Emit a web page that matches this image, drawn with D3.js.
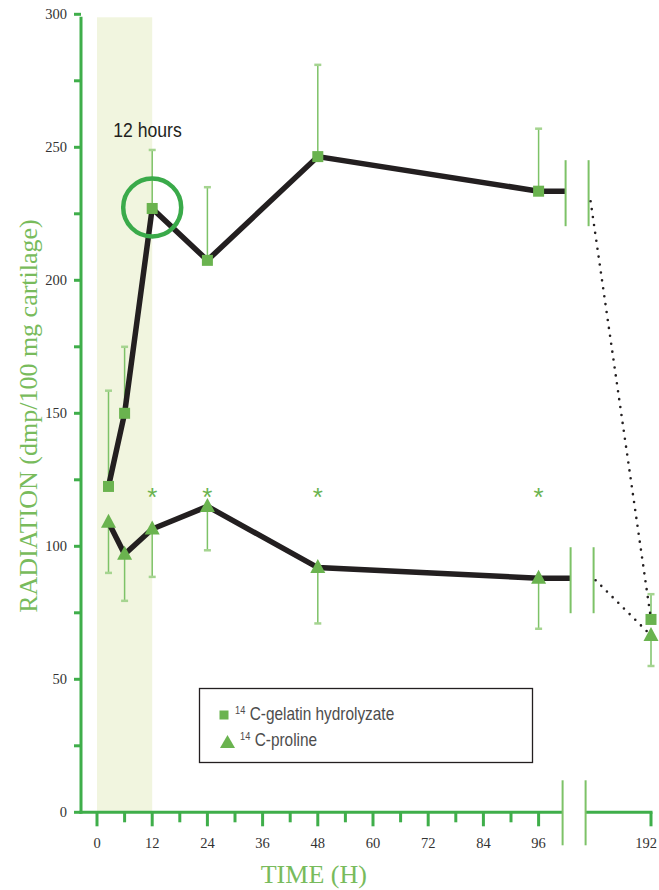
<!DOCTYPE html>
<html>
<head>
<meta charset="utf-8">
<script src="https://cdn.jsdelivr.net/npm/d3@7/dist/d3.min.js"></script>
<style>
  html, body { margin: 0; padding: 0; background: #fff; }
  svg { display: block; }
</style>
</head>
<body>
<div id="chart"></div>
<script>
// Time points (hours) and measured radioactivity per 100 mg cartilage
const gelatinTimes = [2.5, 6, 12, 24, 48, 96, 192];
const gelatinValues = [122.5, 150, 227, 207.5, 246.5, 233.5, 72.5];
const gelatinUpper = [158.5, 175, 249, 235, 281, 257, 82];

const prolineTimes = [2.5, 6, 12, 24, 48, 96, 192];
const prolineValues = [109, 97, 106.5, 115, 92, 88, 66.5];
const prolineLower = [90, 79.5, 88.5, 98.5, 71, 69, 55];

// Time points where the difference is significant
const significantTimes = [12, 24, 48, 96];
const significantLevel = 121;

const xTicks = [0, 6, 12, 18, 24, 30, 36, 42, 48, 54, 60, 66, 72, 78, 84, 90, 96, 192];
const xTickLabels = [0, 12, 24, 36, 48, 60, 72, 84, 96, 192];
const yTicks = [0, 25, 50, 75, 100, 125, 150, 175, 200, 225, 250, 275, 300];
const yTickLabels = [0, 50, 100, 150, 200, 250, 300];

const highlightHours = [0, 12];
const highlightTime = 12;

const W = 659, H = 890;
const axisGreen = "#3fae4a";
const markGreen = "#6ab34f";
const barGreen = "#7dc267";
const capGreen = "#a5d490";
const titleGreen = "#78bb5c";
const ink = "#231f20";
const serif = "'Liberation Serif', 'DejaVu Serif', serif";
const sans = "'Liberation Sans', Arial, sans-serif";

const svg = d3.select("#chart").append("svg")
  .attr("width", W).attr("height", H);

// Hours 0–96 on a linear stretch, then a compressed jump to 192 after the axis break
const x = d3.scaleLinear().domain([0, 96, 192]).range([97, 538.6, 651]);
const y = d3.scaleLinear().domain([0, 300]).range([812.3, 14.3]);
const axisLeft = 81;
const breakA = 24, breakB = 47;

// Highlighted 0–12 h window
svg.append("rect")
  .attr("x", x(highlightHours[0])).attr("y", y(300) + 3)
  .attr("width", x(highlightHours[1]) - x(highlightHours[0]))
  .attr("height", y(0) - y(300) - 3)
  .attr("fill", "#f1f5df");

// ---- Y axis
const gy = svg.append("g");
gy.append("line")
  .attr("x1", axisLeft).attr("x2", axisLeft)
  .attr("y1", y(300) + 2.5).attr("y2", y(0) + 1.5)
  .attr("stroke", axisGreen).attr("stroke-width", 3);
gy.selectAll("line.tick").data(yTicks).join("line")
  .attr("class", "tick")
  .attr("x1", axisLeft - 7).attr("x2", axisLeft)
  .attr("y1", d => y(d)).attr("y2", d => y(d))
  .attr("stroke", axisGreen).attr("stroke-width", 3);
gy.selectAll("text").data(yTickLabels).join("text")
  .attr("x", 67).attr("y", d => y(d) + 5)
  .attr("text-anchor", "end")
  .attr("font-family", serif)
  .attr("font-size", 14.5).attr("fill", "#333")
  .text(d => d);

// ---- X axis (with break between 96 and 192)
const gx = svg.append("g");
gx.append("line")
  .attr("x1", axisLeft - 1.5).attr("x2", x(96) + breakA)
  .attr("y1", y(0)).attr("y2", y(0))
  .attr("stroke", axisGreen).attr("stroke-width", 3);
gx.append("line")
  .attr("x1", x(96) + breakB).attr("x2", x(192) + 1.5)
  .attr("y1", y(0)).attr("y2", y(0))
  .attr("stroke", axisGreen).attr("stroke-width", 3);
gx.selectAll("line.tick").data(xTicks).join("line")
  .attr("class", "tick")
  .attr("x1", d => x(d)).attr("x2", d => x(d))
  .attr("y1", y(0))
  .attr("y2", d => y(0) + (d % 12 === 0 ? 14 : 10))
  .attr("stroke", axisGreen).attr("stroke-width", 3);
[breakA, breakB].forEach(off => {
  gx.append("line")
    .attr("x1", x(96) + off).attr("x2", x(96) + off)
    .attr("y1", y(0) - 32).attr("y2", y(0) + 33)
    .attr("stroke", barGreen).attr("stroke-width", 2);
});
gx.selectAll("text").data(xTickLabels).join("text")
  .attr("x", d => Math.min(x(d), W - 13)).attr("y", 848)
  .attr("text-anchor", "middle")
  .attr("font-family", serif)
  .attr("font-size", 14.5).attr("fill", "#333")
  .text(d => d);

// ---- Axis titles
svg.append("text")
  .attr("x", x(48) - 4).attr("y", 883)
  .attr("text-anchor", "middle")
  .attr("font-family", serif)
  .attr("font-size", 26).attr("fill", titleGreen)
  .text("TIME (H)");
svg.append("text")
  .attr("transform", "translate(37,416) rotate(-90)")
  .attr("text-anchor", "middle")
  .attr("font-family", serif)
  .attr("font-size", 26).attr("fill", titleGreen)
  .text("RADIATION (dmp/100 mg cartilage)");

// ---- Series helpers
const toPoints = (times, values) => times.map((t, i) => ({ t, v: values[i] }));
const gelatin = toPoints(gelatinTimes, gelatinValues);
const proline = toPoints(prolineTimes, prolineValues);

const line = d3.line().x(d => x(d.t)).y(d => y(d.v));

function drawSeries(points, err, dir, offA, offB) {
  const g = svg.append("g");
  const main = points.filter(p => p.t <= 96);
  const last = main[main.length - 1];
  const tail = points[points.length - 1];

  // error bars (one-sided)
  points.forEach((p, i) => {
    g.append("line")
      .attr("x1", x(p.t)).attr("x2", x(p.t))
      .attr("y1", y(p.v)).attr("y2", y(err[i]))
      .attr("stroke", barGreen).attr("stroke-width", 1.5);
    g.append("line")
      .attr("x1", x(p.t) - 3.5).attr("x2", x(p.t) + 3.5)
      .attr("y1", y(err[i])).attr("y2", y(err[i]))
      .attr("stroke", capGreen).attr("stroke-width", 2.5);
  });

  // solid trace to the break
  const xa = x(last.t) + offA, xb = x(last.t) + offB;
  g.append("path")
    .attr("d", line(main) + "L" + xa + "," + y(last.v))
    .attr("fill", "none").attr("stroke", ink)
    .attr("stroke-width", 5.5).attr("stroke-linejoin", "miter");

  // break marks on the trace
  [offA, offB].forEach(off => {
    g.append("line")
      .attr("x1", x(last.t) + off).attr("x2", x(last.t) + off)
      .attr("y1", y(last.v) - 31).attr("y2", y(last.v) + 35)
      .attr("stroke", barGreen).attr("stroke-width", 2);
  });

  // dotted continuation to 192 h
  g.append("line")
    .attr("x1", xb + 2).attr("y1", y(last.v) + dir)
    .attr("x2", x(tail.t)).attr("y2", y(tail.v))
    .attr("stroke", ink).attr("stroke-width", 2.6)
    .attr("stroke-linecap", "round")
    .attr("stroke-dasharray", "0 8");
  return g;
}

const gG = drawSeries(gelatin, gelatinUpper, 10, 27, 50);
const gP = drawSeries(proline, prolineLower, 2, 32, 55);

// Highlight ring around the 12 h gelatin value
const g12 = gelatin.find(p => p.t === highlightTime);
svg.append("circle")
  .attr("cx", x(g12.t)).attr("cy", y(g12.v) - 1)
  .attr("r", 29)
  .attr("fill", "none").attr("stroke", "#3aaa4a").attr("stroke-width", 4.5);

// markers
gG.selectAll("rect.m").data(gelatin).join("rect")
  .attr("class", "m")
  .attr("x", d => x(d.t) - 5.5).attr("y", d => y(d.v) - 5.5)
  .attr("width", 11).attr("height", 11)
  .attr("fill", markGreen);
const tri = "M0,-8.5L7.5,5.5L-7.5,5.5Z";
gP.selectAll("path.m").data(proline).join("path")
  .attr("class", "m")
  .attr("transform", d => `translate(${x(d.t)},${y(d.v)})`)
  .attr("d", tri)
  .attr("fill", markGreen);

// significance marks
svg.selectAll("text.sig").data(significantTimes).join("text")
  .attr("class", "sig")
  .attr("x", d => x(d)).attr("y", y(significantLevel) + 16)
  .attr("text-anchor", "middle")
  .attr("font-family", sans)
  .attr("font-size", 26).attr("fill", markGreen)
  .text("*");

// "12 hours" note (condensed sans)
svg.append("text")
  .attr("transform", "translate(147.5,137) scale(0.86,1)")
  .attr("text-anchor", "middle")
  .attr("font-family", sans)
  .attr("font-size", 20.5).attr("fill", ink)
  .text("12 hours");

// ---- Legend
const lg = svg.append("g");
lg.append("rect")
  .attr("x", 199.5).attr("y", 688.5).attr("width", 333).attr("height", 74)
  .attr("fill", "#fff").attr("stroke", ink).attr("stroke-width", 1.3);
lg.append("rect")
  .attr("x", 219.5).attr("y", 710.5).attr("width", 9).attr("height", 9)
  .attr("fill", markGreen);
lg.append("path")
  .attr("transform", "translate(227.5,742)")
  .attr("d", "M0,-7L7.5,6L-7.5,6Z")
  .attr("fill", markGreen);
const legendItems = [
  { label: "C-gelatin hydrolyzate", y: 720, sx: 235 },
  { label: "C-proline", y: 746, sx: 240 }
];
legendItems.forEach(it => {
  const t = lg.append("text")
    .attr("transform", `translate(${it.sx},${it.y}) scale(0.88,1)`)
    .attr("font-family", sans)
    .attr("fill", "#4d4d4d");
  t.append("tspan").attr("font-size", 10.5).attr("dy", -6).text("14");
  t.append("tspan").attr("font-size", 17.5).attr("dy", 6).attr("dx", 5).text(it.label);
});
</script>
</body>
</html>
